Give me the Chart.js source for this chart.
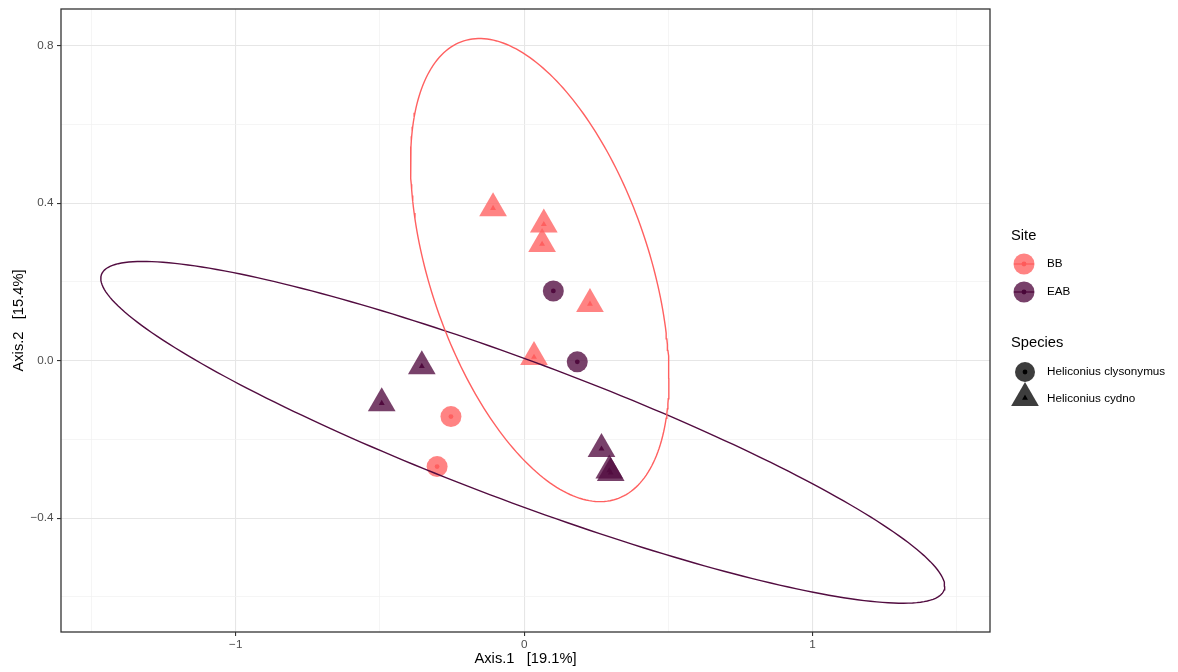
<!DOCTYPE html>
<html>
<head>
<meta charset="utf-8">
<title>PCoA ordination</title>
<script src="https://cdn.jsdelivr.net/npm/chart.js@4/dist/chart.umd.min.js"></script>
<style>
  html, body { margin: 0; padding: 0; background: #ffffff; }
  #wrap { width: 1178px; height: 672px; }
</style>
</head>
<body>
<div id="wrap"><canvas id="ord" width="1178" height="672"></canvas></div>
<script>
// ---- Ordination scores (PCoA axes 1 and 2) ----
const siteNames = ['BB', 'EAB'];
const speciesNames = ['Heliconius clysonymus', 'Heliconius cydno'];

// species index: 0 = H. clysonymus (circle), 1 = H. cydno (triangle)
const bbAxis1    = [-0.108, 0.068, 0.062, 0.228, 0.034, -0.254, -0.302];
const bbAxis2    = [ 0.387, 0.346, 0.296, 0.144, 0.009, -0.142, -0.269];
const bbSpecies  = [1, 1, 1, 1, 1, 0, 0];

const eabAxis1   = [0.101, 0.184, -0.355, -0.494, 0.268, 0.295, 0.300];
const eabAxis2   = [0.177, -0.003, -0.014, -0.108, -0.224, -0.279, -0.285];
const eabSpecies = [0, 0, 1, 1, 1, 1, 1];

// confidence ellipses: centre x, centre y, half-extent x, half-extent y, cos(phase)
const bbEllipse  = [0.054, 0.230, 0.448, 0.588, -0.466];
const eabEllipse = [-0.005, -0.182, 1.463, 0.434, -0.900];

// axis tick positions
const xTicks = [-1.5, -1, -0.5, 0, 0.5, 1, 1.5];
const xMajor = [-1, 0, 1];
const yTicks = [-0.6, -0.4, -0.2, 0, 0.2, 0.4, 0.6, 0.8];
const yMajor = [-0.4, 0, 0.4, 0.8];

const axisTitles = ['Axis.1   [19.1%]', 'Axis.2   [15.4%]'];

// ---- styling ----
const FONT = '"Liberation Sans", Arial, Helvetica, sans-serif';
const siteLine  = ['rgb(255,96,96)', 'rgb(82,12,64)'];
const siteFill  = ['rgba(255,96,96,0.78)', 'rgba(82,12,64,0.78)'];
const siteDot   = ['rgb(255,90,90)', 'rgb(72,6,56)'];

function isIn(v, list) { return list.some(m => Math.abs(m - v) < 1e-9); }
function minusFmt(v) { return v < 0 ? '\u2212' + Math.abs(v) : String(v); }

function points(xs, ys, sp) {
  return xs.map((x, i) => ({ x: x, y: ys[i], s: sp[i] }));
}

function ellipsePath(p) {
  const [cx, cy, ax, ay, cphase] = p;
  const d = Math.acos(cphase);
  const out = [];
  const n = 240;
  for (let k = 0; k <= n; k++) {
    const t = 2 * Math.PI * k / n;
    out.push({ x: cx + ax * Math.cos(t), y: cy + ay * Math.cos(t - d) });
  }
  return out;
}

function markerSet(label, pts, site, big) {
  return {
    type: 'scatter',
    label: label,
    data: pts,
    order: 2,
    pointStyle: c => (c.raw && c.raw.s === 1 ? 'triangle' : 'circle'),
    pointRadius: c => {
      const tri = c.raw && c.raw.s === 1;
      if (big) return tri ? 16 : 10.5;
      return tri ? 3.4 : 2.4;
    },
    pointBackgroundColor: big ? siteFill[site] : siteDot[site],
    pointBorderWidth: 0,
    pointBorderColor: 'rgba(0,0,0,0)',
    pointHoverRadius: 0
  };
}

function ellipseSet(label, p, site) {
  return {
    type: 'line',
    label: label,
    data: ellipsePath(p),
    order: 1,
    showLine: true,
    borderColor: siteLine[site],
    borderWidth: 1.4,
    pointRadius: 0,
    tension: 0,
    fill: false
  };
}

const bbPts = points(bbAxis1, bbAxis2, bbSpecies);
const eabPts = points(eabAxis1, eabAxis2, eabSpecies);

// panel border and legend
const decor = {
  id: 'decor',
  afterDraw(chart) {
    const ctx = chart.ctx;
    const a = chart.chartArea;
    ctx.save();
    ctx.strokeStyle = '#333333';
    ctx.lineWidth = 1.3;
    ctx.strokeRect(a.left, a.top, a.right - a.left, a.bottom - a.top);

    const kx = 1024, tx = 1047;
    ctx.fillStyle = '#000';
    ctx.textBaseline = 'middle';
    ctx.textAlign = 'left';
    ctx.font = '14.7px ' + FONT;
    ctx.fillText('Site', 1011, 236);
    ctx.fillText('Species', 1011, 343);

    ctx.font = '11.7px ' + FONT;
    const siteY = [264, 292];
    siteNames.forEach((nm, i) => {
      const y = siteY[i];
      ctx.beginPath();
      ctx.fillStyle = siteFill[i];
      ctx.arc(kx, y, 10.5, 0, Math.PI * 2);
      ctx.fill();
      ctx.beginPath();
      ctx.strokeStyle = siteLine[i];
      ctx.lineWidth = 1.4;
      ctx.moveTo(kx - 10, y);
      ctx.lineTo(kx + 10, y);
      ctx.stroke();
      ctx.beginPath();
      ctx.fillStyle = siteDot[i];
      ctx.arc(kx, y, 2.4, 0, Math.PI * 2);
      ctx.fill();
      ctx.fillStyle = '#000';
      ctx.fillText(nm, tx, y);
    });

    const spY = [372, 398];
    // circle key
    ctx.beginPath();
    ctx.fillStyle = 'rgba(0,0,0,0.76)';
    ctx.arc(kx + 1, spY[0], 10, 0, Math.PI * 2);
    ctx.fill();
    ctx.beginPath();
    ctx.fillStyle = '#000';
    ctx.arc(kx + 1, spY[0], 2.4, 0, Math.PI * 2);
    ctx.fill();
    // triangle key
    const tri = (cx, cy, r) => {
      ctx.beginPath();
      for (let k = 0; k < 3; k++) {
        const ang = k * 2 * Math.PI / 3;
        const px = cx + Math.sin(ang) * r, py = cy - Math.cos(ang) * r;
        if (k === 0) ctx.moveTo(px, py); else ctx.lineTo(px, py);
      }
      ctx.closePath();
      ctx.fill();
    };
    ctx.fillStyle = 'rgba(0,0,0,0.76)';
    tri(kx + 1, spY[1], 16);
    ctx.fillStyle = '#000';
    tri(kx + 1, spY[1], 3.4);

    ctx.fillStyle = '#000';
    ctx.fillText(speciesNames[0], tx, spY[0]);
    ctx.fillText(speciesNames[1], tx, spY[1] + 1);
    ctx.restore();
  }
};

const gridColor = (major) => (c => (isIn(c.tick.value, major) ? '#e6e6e6' : '#f1f1f1'));
const gridWidth = (major) => (c => (isIn(c.tick.value, major) ? 1.1 : 0.7));
const tickCol = (major) => (c => (isIn(c.tick.value, major) ? '#333333' : 'rgba(0,0,0,0)'));

new Chart(document.getElementById('ord'), {
  type: 'scatter',
  data: {
    datasets: [
      ellipseSet(siteNames[0] + ' ellipse', bbEllipse, 0),
      ellipseSet(siteNames[1] + ' ellipse', eabEllipse, 1),
      markerSet(siteNames[0], bbPts, 0, true),
      markerSet(siteNames[1], eabPts, 1, true),
      markerSet(siteNames[0] + ' centre', bbPts, 0, false),
      markerSet(siteNames[1] + ' centre', eabPts, 1, false)
    ]
  },
  options: {
    responsive: false,
    animation: false,
    events: [],
    layout: { autoPadding: false, padding: { left: 0, top: 9, right: 188, bottom: 0 } },
    plugins: { legend: { display: false }, tooltip: { enabled: false } },
    scales: {
      x: {
        type: 'linear',
        min: -1.606,
        max: 1.615,
        afterBuildTicks: s => { s.ticks = xTicks.map(v => ({ value: v })); },
        afterFit: s => { s.height = 40; s.paddingLeft = 0; s.paddingRight = 0; },
        grid: {
          color: gridColor(xMajor),
          lineWidth: gridWidth(xMajor),
          tickColor: tickCol(xMajor),
          tickLength: 4,
          tickWidth: 1.1
        },
        border: { display: false },
        ticks: {
          autoSkip: false,
          maxRotation: 0,
          padding: 1.5,
          color: '#4d4d4d',
          font: { family: FONT, size: 11.7 },
          callback: v => (isIn(v, xMajor) ? minusFmt(v) : '')
        },
        title: {
          display: true,
          text: axisTitles[0],
          color: '#000',
          font: { family: FONT, size: 14.7 },
          padding: { top: 0, bottom: 4 }
        }
      },
      y: {
        type: 'linear',
        min: -0.689,
        max: 0.893,
        afterBuildTicks: s => { s.ticks = yTicks.map(v => ({ value: v })); },
        afterFit: s => { s.width = 61; s.paddingTop = 0; s.paddingBottom = 0; },
        grid: {
          color: gridColor(yMajor),
          lineWidth: gridWidth(yMajor),
          tickColor: tickCol(yMajor),
          tickLength: 4,
          tickWidth: 1.1
        },
        border: { display: false },
        ticks: {
          autoSkip: false,
          padding: 3.5,
          color: '#4d4d4d',
          font: { family: FONT, size: 11.7 },
          callback: v => {
            if (!isIn(v, yMajor)) return '';
            const s = Math.abs(v).toFixed(1);
            return v < -1e-9 ? '\u2212' + s : s;
          }
        },
        title: {
          display: true,
          text: axisTitles[1],
          color: '#000',
          font: { family: FONT, size: 14.7 },
          padding: { top: 10, bottom: 0 }
        }
      }
    }
  },
  plugins: [decor]
});
</script>
</body>
</html>
